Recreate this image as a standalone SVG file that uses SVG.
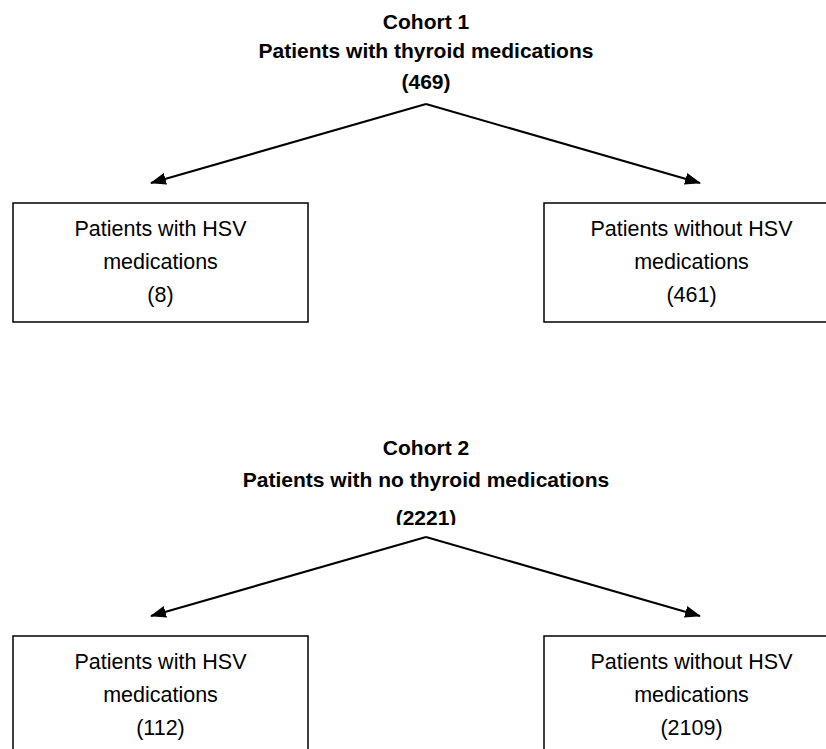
<svg xmlns="http://www.w3.org/2000/svg" width="826" height="749" viewBox="0 0 826 749">
<style>
.title{font-family:"Liberation Sans",Arial,sans-serif;font-size:21px;font-weight:bold;fill:#000;text-anchor:middle}
.lbl{font-family:"Liberation Sans",Arial,sans-serif;font-size:21.5px;fill:#000;text-anchor:middle}
.box{fill:#fff;stroke:#000;stroke-width:1.5}
.conn{fill:none;stroke:#000;stroke-width:2}
</style>
<defs>
<marker id="ah" markerUnits="userSpaceOnUse" markerWidth="16" markerHeight="12" refX="15" refY="6" orient="auto">
<path d="M0,0 L16,6 L0,12 Z" fill="#000"/>
</marker>
<clipPath id="clip2"><rect x="0" y="400" width="826" height="125"/></clipPath>
</defs>
<rect width="826" height="749" fill="#fff"/>
<g id="cohort1">
<text class="title" x="426" y="29">Cohort 1</text>
<text class="title" x="426" y="58">Patients with thyroid medications</text>
<text class="title" x="426" y="89">(469)</text>
</g>
<g id="c1-with">
<rect class="box" x="13" y="203" width="295" height="119"/>
<text class="lbl" x="160.5" y="236">Patients with HSV</text>
<text class="lbl" x="160.5" y="269">medications</text>
<text class="lbl" x="160.5" y="302">(8)</text>
</g>
<g id="c1-without">
<rect class="box" x="544" y="203" width="295" height="119"/>
<text class="lbl" x="691.5" y="236">Patients without HSV</text>
<text class="lbl" x="691.5" y="269">medications</text>
<text class="lbl" x="691.5" y="302">(461)</text>
</g>
<g id="cohort2">
<text class="title" x="426" y="455">Cohort 2</text>
<text class="title" x="426" y="487">Patients with no thyroid medications</text>
<text class="title" x="426" y="525" clip-path="url(#clip2)">(2221)</text>
</g>
<g id="c2-with">
<rect class="box" x="13" y="636" width="295" height="130"/>
<text class="lbl" x="160.5" y="669">Patients with HSV</text>
<text class="lbl" x="160.5" y="702">medications</text>
<text class="lbl" x="160.5" y="735">(112)</text>
</g>
<g id="c2-without">
<rect class="box" x="544" y="636" width="295" height="130"/>
<text class="lbl" x="691.5" y="669">Patients without HSV</text>
<text class="lbl" x="691.5" y="702">medications</text>
<text class="lbl" x="691.5" y="735">(2109)</text>
</g>
<g id="connectors">
<path class="conn" d="M426,104 L151,183" marker-end="url(#ah)"/>
<path class="conn" d="M426,104 L700,183" marker-end="url(#ah)"/>
<path class="conn" d="M426,537 L151,616" marker-end="url(#ah)"/>
<path class="conn" d="M426,537 L700,616" marker-end="url(#ah)"/>
</g>
</svg>
